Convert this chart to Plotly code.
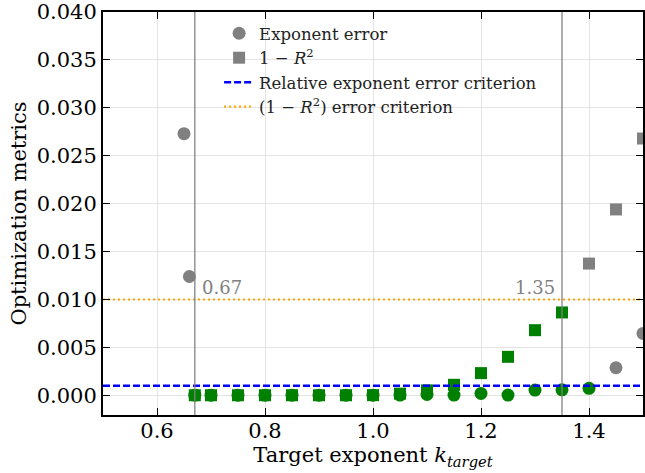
import plotly.graph_objects as go

# Target exponents scanned during the optimization
k_target = [0.65, 0.66, 0.67, 0.70, 0.75, 0.80, 0.85, 0.90, 0.95, 1.00,
            1.05, 1.10, 1.15, 1.20, 1.25, 1.30, 1.35, 1.40, 1.45, 1.50]

# Relative exponent error for each target
exponent_error = [0.0273, 0.0124, 0.00002, 0.00001, 0.00001, 0.00001, 0.00001,
                  0.00001, 0.00002, 0.00002, 0.00003, 0.00010, 0.00003, 0.00020,
                  0.00003, 0.00055, 0.00058, 0.00073, 0.00288, 0.00646]

# 1 - R^2 of the fit for each target (None: outside the plotted range)
one_minus_r2 = [None, None, 0.00001, 0.00001, 0.00001, 0.00001, 0.00001,
                0.00001, 0.00001, 0.00002, 0.00018, 0.00052, 0.00110, 0.00232,
                0.00402, 0.00680, 0.00865, 0.01375, 0.01940, 0.02680]

# Acceptance thresholds and the resulting valid exponent window
exp_criterion = 0.001
r2_criterion = 0.010
k_bounds = [0.67, 1.35]

x_range = [0.5, 1.5]
y_range = [-0.00205, 0.040]
y_ticks = [0.000, 0.005, 0.010, 0.015, 0.020, 0.025, 0.030, 0.035, 0.040]

FONT = "DejaVu Serif"
GREY = "#808080"
GREEN = "#008000"


def split(xs, ys, limit):
    """Split a series into (passing, failing) points for a threshold."""
    ok_x, ok_y, bad_x, bad_y = [], [], [], []
    for x, y in zip(xs, ys):
        if y is None:
            continue
        if y < limit:
            ok_x.append(x); ok_y.append(y)
        else:
            bad_x.append(x); bad_y.append(y)
    return ok_x, ok_y, bad_x, bad_y


ex_ok_x, ex_ok_y, ex_bad_x, ex_bad_y = split(k_target, exponent_error, exp_criterion)
r2_ok_x, r2_ok_y, r2_bad_x, r2_bad_y = split(k_target, one_minus_r2, r2_criterion)

fig = go.Figure()

# Exponent error (circles)
fig.add_trace(go.Scatter(x=ex_bad_x, y=ex_bad_y, mode="markers", name="Exponent error",
                         marker=dict(symbol="circle", size=13, color=GREY),
                         legendrank=1))
fig.add_trace(go.Scatter(x=ex_ok_x, y=ex_ok_y, mode="markers", showlegend=False,
                         marker=dict(symbol="circle", size=13, color=GREEN)))

# 1 - R^2 (squares)
fig.add_trace(go.Scatter(x=r2_bad_x, y=r2_bad_y, mode="markers",
                         name="1 − <i>R</i><sup>2</sup>",
                         marker=dict(symbol="square", size=12, color=GREY),
                         legendrank=2))
fig.add_trace(go.Scatter(x=r2_ok_x, y=r2_ok_y, mode="markers", showlegend=False,
                         marker=dict(symbol="square", size=12, color=GREEN)))

# Criterion lines spanning the full x range
fig.add_trace(go.Scatter(x=x_range, y=[exp_criterion] * 2, mode="lines",
                         name="Relative exponent error criterion",
                         line=dict(color="#0000FF", width=2.5, dash="7px,3px"),
                         legendrank=3))
fig.add_trace(go.Scatter(x=x_range, y=[r2_criterion] * 2, mode="lines",
                         name="(1 − <i>R</i><sup>2</sup>) error criterion",
                         line=dict(color="#FFA500", width=2.2, dash="2px,3px"),
                         legendrank=4))

# Bounds of the valid exponent window
for kb, anchor, dx in zip(k_bounds, ["left", "right"], [0.01, -0.01]):
    fig.add_shape(type="line", x0=kb, x1=kb, y0=0, y1=1, xref="x", yref="y domain",
                  line=dict(color="rgba(128,128,128,0.85)", width=1.5), layer="above")
    fig.add_annotation(x=kb + dx, y=r2_criterion, xref="x", yref="y",
                       text=f"{kb:.2f}", showarrow=False, xanchor=anchor, yanchor="bottom",
                       yshift=0, font=dict(family=FONT, size=18, color=GREY))

axis_common = dict(
    showline=True, linecolor="black", linewidth=2, mirror="ticks",
    ticks="inside", ticklen=7, tickwidth=1.2, tickcolor="black",
    showgrid=True, gridcolor="#e4e4e4", gridwidth=1, zeroline=False,
    ticklabeloverflow="allow",
    tickfont=dict(family=FONT, size=21, color="black"),
)

fig.update_xaxes(range=x_range, dtick=0.2, tick0=0.6, tickformat=".1f",
                 ticklabelstandoff=-4,
                 title=dict(text="Target exponent <i>k</i><sub><i>target</i></sub>",
                            font=dict(family=FONT, size=21, color="black"), standoff=0),
                 **axis_common)
fig.update_yaxes(range=y_range, tickvals=y_ticks, tickformat=".3f",
                 title=dict(text="Optimization metrics",
                            font=dict(family=FONT, size=21, color="black"), standoff=4),
                 **axis_common)

fig.update_layout(
    width=645, height=473,
    margin=dict(l=103, r=0, t=11, b=58),
    plot_bgcolor="white", paper_bgcolor="white",
    font=dict(family=FONT, size=16, color="black"),
    legend=dict(x=0.215, y=0.99, xanchor="left", yanchor="top",
                bgcolor="rgba(0,0,0,0)", borderwidth=0,
                font=dict(family=FONT, size=16.5, color="#222222"),
                tracegroupgap=0),
)

fig.write_html("out.html")
